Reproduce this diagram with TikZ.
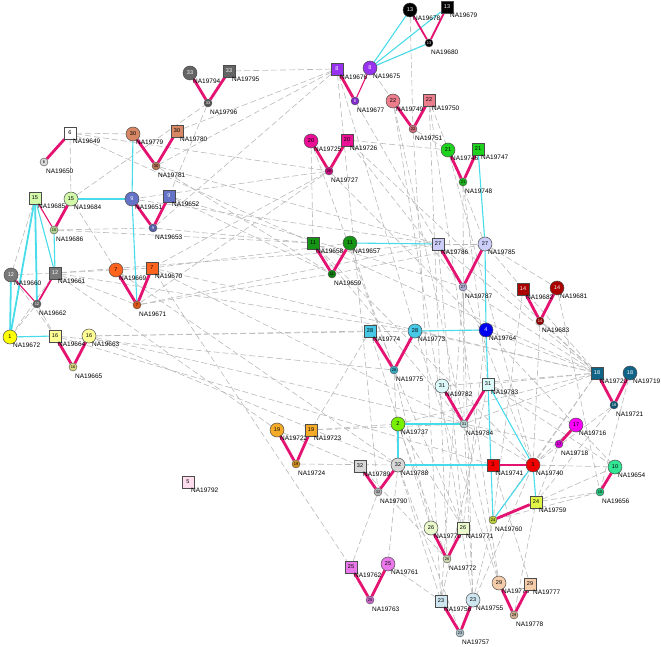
\documentclass[tikz,border=0pt]{standalone}
\usepackage{fontspec}
\setmainfont{Liberation Sans}
\usetikzlibrary{backgrounds}

\definecolor{edgepink}{RGB}{228,18,112}
\definecolor{linkcyan}{RGB}{72,220,235}
\definecolor{dashgrey}{RGB}{185,185,185}
\definecolor{c1}{RGB}{255,255,0}
\definecolor{c2}{RGB}{120,240,0}
\definecolor{c3}{RGB}{240,0,0}
\definecolor{c4}{RGB}{0,0,240}
\definecolor{c5}{RGB}{255,220,238}
\definecolor{c6}{RGB}{255,255,255}
\definecolor{c7}{RGB}{255,100,30}
\definecolor{c8}{RGB}{150,50,240}
\definecolor{c9}{RGB}{100,115,200}
\definecolor{c10}{RGB}{50,230,150}
\definecolor{c11}{RGB}{20,150,20}
\definecolor{c12}{RGB}{120,120,120}
\definecolor{c13}{RGB}{0,0,0}
\definecolor{c14}{RGB}{170,0,0}
\definecolor{c15}{RGB}{210,250,170}
\definecolor{c16}{RGB}{255,255,150}
\definecolor{c17}{RGB}{255,0,255}
\definecolor{c18}{RGB}{15,100,135}
\definecolor{c19}{RGB}{245,170,40}
\definecolor{c20}{RGB}{235,15,150}
\definecolor{c21}{RGB}{30,210,30}
\definecolor{c22}{RGB}{235,125,140}
\definecolor{c23}{RGB}{205,230,240}
\definecolor{c24}{RGB}{225,245,70}
\definecolor{c25}{RGB}{235,120,235}
\definecolor{c26}{RGB}{235,250,205}
\definecolor{c27}{RGB}{205,205,250}
\definecolor{c28}{RGB}{70,200,230}
\definecolor{c29}{RGB}{245,205,170}
\definecolor{c30}{RGB}{215,135,100}
\definecolor{c31}{RGB}{220,250,250}
\definecolor{c32}{RGB}{215,215,215}
\definecolor{c33}{RGB}{100,100,100}

\tikzset{
  mum/.style={circle, draw=black!70, line width=0.5pt, minimum size=14pt,
    inner sep=0pt, font=\fontsize{5.5}{6}\selectfont},
  dad/.style={rectangle, draw=black!70, line width=0.5pt, minimum size=12pt,
    inner sep=0pt, font=\fontsize{5.5}{6}\selectfont},
  kid/.style={circle, draw=black!70, line width=0.4pt, minimum size=8pt,
    inner sep=0pt, font=\fontsize{4}{4}\selectfont},
  tag/.style={anchor=west, inner sep=0pt, font=\fontsize{6.5}{7}\selectfont},
  tie/.style={draw=edgepink, line width=2.8pt},
  thintie/.style={draw=edgepink, line width=1.1pt},
  twin/.style={draw=linkcyan, line width=1.1pt},
  share/.style={draw=dashgrey, line width=0.6pt, dash pattern=on 6pt off 3pt},
}

\begin{document}
\begin{tikzpicture}[x = 1pt, y = -1pt]
\useasboundingbox (0, 0) rectangle (661, 647);

% mothers
\foreach \n/\x/\y/\c/\k/\t/\l in {
  ci30/133/134/c30/black/30/NA19779, ci15/71/199/c15/black/15/NA19684,
  ci9/132/199/c9/white/9/NA19651, ci12/11/275/c12/white/12/NA19660,
  ci7/116/270/c7/black/7/NA19669, ci1/10/337/c1/black/1/NA19672,
  ci16/89/336/c16/black/16/NA19663, ci33/190/73/c33/white/33/NA19794,
  ci8/370/68/c8/white/8/NA19675, ci13/410/10/c13/white/13/NA19678,
  ci22/393/101/c22/black/22/NA19749, ci20/311/141/c20/black/20/NA19725,
  ci21/448/150/c21/black/21/NA19746, ci11/350/243/c11/black/11/NA19657,
  ci27/485/244/c27/black/27/NA19785, ci14/557/288/c14/white/14/NA19681,
  ci28/415/331/c28/black/28/NA19773, ci4/486/330/c4/white/4/NA19764,
  ci18/630/373/c18/white/18/NA19719, ci31/442/386/c31/black/31/NA19782,
  ci17/576/425/c17/black/17/NA19716, ci19/277/430/c19/black/19/NA19722,
  ci2/398/424/c2/black/2/NA19737, ci32/398/465/c32/black/32/NA19788,
  ci3/533/465/c3/black/3/NA19740, ci10/615/467/c10/black/10/NA19654,
  ci26/431/528/c26/black/26/NA19770, ci25/388/564/c25/black/25/NA19761,
  ci23/473/600/c23/black/23/NA19755, ci29/499/583/c29/black/29/NA19776} {
  \node[mum, fill=\c, text=\k] (\n) at (\x, \y) {\t};
  \node[tag] (\n-tag) at (\x+3, \y+8.5) {\l};
}

% fathers
\foreach \n/\x/\y/\c/\k/\t/\l in {
  sq6/70/133/c6/black/6/NA19649, sq30/177/131/c30/black/30/NA19780,
  sq15/35/198/c15/black/15/NA19685, sq9/169/196/c9/white/9/NA19652,
  sq12/55/273/c12/white/12/NA19661, sq7/152/268/c7/black/7/NA19670,
  sq16/55/336/c16/black/16/NA19664, sq33/229/71/c33/white/33/NA19795,
  sq8/337/69/c8/white/8/NA19676, sq13/447/7/c13/white/13/NA19679,
  sq22/429/100/c22/black/22/NA19750, sq20/347/140/c20/black/20/NA19726,
  sq21/478/149/c21/black/21/NA19747, sq11/313/243/c11/black/11/NA19658,
  sq27/438/244/c27/black/27/NA19786, sq14/523/289/c14/white/14/NA19682,
  sq28/370/331/c28/black/28/NA19774, sq18/597/373/c18/white/18/NA19720,
  sq31/488/384/c31/black/31/NA19783, sq19/311/430/c19/black/19/NA19723,
  sq32/360/466/c32/black/32/NA19789, sq3/493/465/c3/black/3/NA19741,
  sq24/536/502/c24/black/24/NA19759, sq26/463/528/c26/black/26/NA19771,
  sq25/351/567/c25/black/25/NA19762, sq23/441/601/c23/black/23/NA19756,
  sq29/530/584/c29/black/29/NA19777, sq5/188/482/c5/black/5/NA19792} {
  \node[dad, fill=\c, text=\k] (\n) at (\x, \y) {\t};
  \node[tag] (\n-tag) at (\x+3, \y+8.5) {\l};
}

% children
\foreach \n/\x/\y/\c/\k/\t/\l in {
  ch6/44/162/c6/black/6/NA19650, ch30/156/166/c30/black/30/NA19781,
  ch15/54/230/c15/black/15/NA19686, ch9/153/228/c9/white/9/NA19653,
  ch12/37/304/c12/white/12/NA19662, ch7/137/305/c7/black/7/NA19671,
  ch16/73/367/c16/black/16/NA19665, ch33/208/103/c33/white/33/NA19796,
  ch8/355/101/c8/white/8/NA19677, ch13/429/43/c13/white/13/NA19680,
  ch22/413/129/c22/black/22/NA19751, ch20/329/171/c20/black/20/NA19727,
  ch21/463/182/c21/black/21/NA19748, ch11/332/274/c11/black/11/NA19659,
  ch27/463/287/c27/black/27/NA19787, ch14/540/321/c14/white/14/NA19683,
  ch28/394/370/c28/black/28/NA19775, ch18/614/405/c18/white/18/NA19721,
  ch31/464/424/c31/black/31/NA19784, ch17/559/444/c17/black/17/NA19718,
  ch19/296/464/c19/black/19/NA19724, ch32/378/492/c32/black/32/NA19790,
  ch10/600/492/c10/black/10/NA19656, ch24/493/520/c24/black/24/NA19760,
  ch26/447/559/c26/black/26/NA19772, ch25/370/600/c25/black/25/NA19763,
  ch23/460/633/c23/black/23/NA19757, ch29/514/615/c29/black/29/NA19778} {
  \node[kid, fill=\c!85!black, text=\k] (\n) at (\x, \y) {\t};
  \node[tag] (\n-tag) at (\x+2, \y+9) {\l};
}

\begin{pgfonlayer}{background}
% shared markers
\foreach \a/\b in {
  sq6/ci30, sq6/ci15, sq6/sq11, sq6/ch20, ci15/ch33, ci15/ci7, ch15/sq11,
  ch15/ch9, sq15/ci12, sq15/ch12, ci12/sq12, ci12/sq16, ch12/ci1, ch12/sq16,
  sq12/ci1, sq12/ci7, sq12/ch7, sq12/sq27, sq12/ci28, ch9/sq11, sq9/ch11,
  sq9/ch27, ci9/sq27, ci7/sq7, sq7/ci11, sq7/sq18, sq7/ch31, sq7/sq25,
  ch7/ch20, ch7/sq27, ch7/ch11, ci7/ci32, ci16/sq28, ci16/ci4, ci16/ch31,
  sq16/ch28, sq16/sq3, ci16/ci32, ch30/sq27, ch30/ch11, sq30/sq8, ch33/sq9,
  sq33/sq8, sq8/ch30, sq8/ch9, sq8/ci28, sq8/ch32, ch8/ch27, ci8/ch13,
  ci8/ch22, ci13/ch22, sq22/ci27, ch22/ci21, ci22/ch31, ci22/ci23,
  ch22/sq23, sq22/ch26, sq22/ci29, ci20/sq11, sq20/ci21, sq20/ch27,
  ch20/ci9, ch20/sq7, ch20/ci4, sq20/sq18, ci20/ch28, ch21/sq31, ci21/ci3,
  ch21/ch31, ch11/ci27, ci11/ch28, sq11/ci3, sq11/sq18, sq11/ch31,
  sq27/ci27, sq27/sq18, ch27/sq18, ch27/ci3, sq27/sq26, ch27/ci23,
  ci27/sq14, ci27/ci14, sq14/sq18, ch14/sq18, ch14/ci3, ci14/ch10,
  sq14/ch24, ci28/sq18, ch28/ci32, sq28/ci26, ch28/sq26, sq28/sq19,
  ci4/sq18, ci4/ci10, ci31/sq18, ch31/sq18, sq31/sq18, ci2/sq18, sq31/ci17,
  ch31/ch17, sq31/ci10, ch31/ci3, sq18/ci3, sq18/ch24, ch18/ci3, ch18/sq24,
  ci18/ch10, ci17/ci3, ch17/sq24, ci3/ci10, sq24/ci10, sq24/ch10,
  ch24/ch10, ci19/sq12, sq19/ci2, sq19/ch31, ch19/ci32, ci19/sq32,
  ci32/ci25, ch32/sq25, ci32/sq23, sq32/ch26, ci2/sq26, ci32/ch23,
  ci25/sq23, ci23/ch24, sq23/sq31, ch23/ci3, ci23/ch31, sq23/ch27,
  ci29/ch31, ch29/sq24, ci29/ci28, sq29/sq3, ci26/ch28, sq26/ci4, ch26/ci2}
  \draw[share] (\a) -- (\b);

% twins and close kin
\foreach \a/\b in {
  ci8/ci13, ci8/sq13, ci8/ch13, ci30/ci9, ci9/ch7, ci15/ci9, sq15/sq12,
  ch15/sq12, ci11/sq27, sq21/ci27, ci27/ci4, ci28/ci4, ci4/sq31,
  sq31/ch24, sq31/ci3, ci3/sq24, ci3/ch24, ci2/ch31, ci2/ci32, ci32/sq3,
  ci1/sq16}
  \draw[twin] (\a) -- (\b);
\foreach \a/\b in {sq15/ci1, sq15/ch12, ci12/ci1}
  \draw[twin, line width=1.8pt] (\a) -- (\b);

% parents to child
\foreach \a/\b in {
  sq6/ch6, ci30/ch30, sq30/ch30, ci15/ch15, ci9/ch9, sq9/ch9, ci7/ch7,
  sq7/ch7, sq16/ch16, ci16/ch16, ci33/ch33, sq33/ch33, sq8/ch8, ci22/ch22,
  sq22/ch22, ci20/ch20, sq20/ch20, ci21/ch21, sq21/ch21, sq11/ch11,
  ci11/ch11, sq27/ch27, ci27/ch27, sq14/ch14, ci14/ch14, sq28/ch28,
  ci28/ch28, sq18/ch18, ci18/ch18, ci31/ch31, sq31/ch31, ci17/ch17,
  ci19/ch19, sq19/ch19, sq32/ch32, ci32/ch32, ci10/ch10, sq24/ch24,
  ci26/ch26, sq26/ch26, sq25/ch25, ci25/ch25, sq23/ch23, ci23/ch23,
  ci29/ch29, sq29/ch29}
  \draw[tie] (\a) -- (\b);
\foreach \a/\b in {sq15/ch15, ci12/ch12, ci8/ch8, sq3/ci3}
  \draw[thintie] (\a) -- (\b);
\foreach \a/\b in {sq12/ch12, ci13/ch13, sq13/ch13}
  \draw[tie, line width=1.8pt] (\a) -- (\b);
\end{pgfonlayer}

\end{tikzpicture}
\end{document}
